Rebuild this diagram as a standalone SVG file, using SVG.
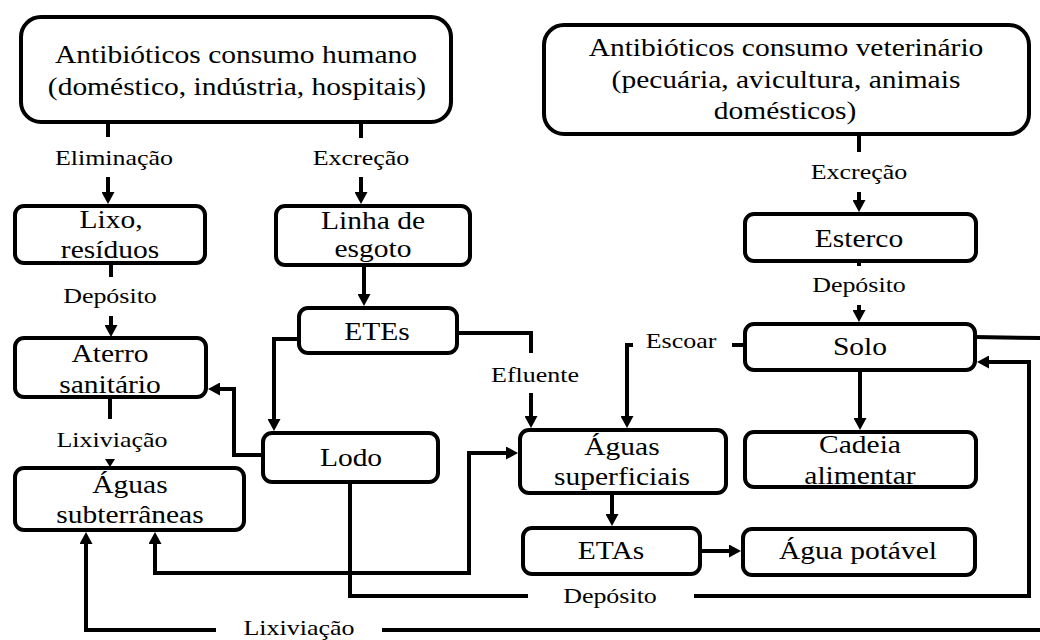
<svg xmlns="http://www.w3.org/2000/svg" width="1040" height="640" viewBox="0 0 1040 640" font-family="'Liberation Serif', 'Times New Roman', serif">
  <style>
    .box { fill: #fff; stroke: #000; stroke-width: 4; }
    .wire { fill: none; stroke: #000; stroke-width: 4; }
    .t { font-family: 'Liberation Serif', 'Times New Roman', serif; font-size: 25px; text-anchor: middle; fill: #000;
         transform-box: fill-box; transform-origin: center; transform: scaleX(1.18); }
    .l { font-size: 22px; }
  </style>
  <defs>
    <marker id="arrow" markerUnits="userSpaceOnUse" markerWidth="12" markerHeight="13" refX="4" refY="6.5" orient="auto-start-reverse">
      <path d="M0,0 L12,6.5 L0,13 z" fill="#000"/>
    </marker>
  </defs>
  <rect width="1040" height="640" fill="#fff"/>

  <!-- connectors -->
  <g id="connectors">
    <!-- human consumption branches -->
    <path class="wire" d="M108,122 V137"/>
    <text class="t l" x="114" y="165">Eliminação</text>
    <path class="wire" d="M108,177 V196" marker-end="url(#arrow)"/>

    <path class="wire" d="M361,122 V138"/>
    <text class="t l" x="361" y="165">Excreção</text>
    <path class="wire" d="M361,177 V196" marker-end="url(#arrow)"/>

    <path class="wire" d="M111,263 V277"/>
    <text class="t l" x="110" y="303">Depósito</text>
    <path class="wire" d="M111,316 V329" marker-end="url(#arrow)"/>

    <path class="wire" d="M364,265 V298" marker-end="url(#arrow)"/>

    <path class="wire" d="M110,397 V419"/>
    <text class="t l" x="112" y="447">Lixiviação</text>
    <path d="M105,459 H115 L110,467 z" fill="#000"/>

    <!-- veterinary branch -->
    <path class="wire" d="M859,134 V152"/>
    <text class="t l" x="859" y="179">Excreção</text>
    <path class="wire" d="M859,192 V204" marker-end="url(#arrow)"/>

    <path class="wire" d="M859,261 V266"/>
    <text class="t l" x="859" y="292">Depósito</text>
    <path class="wire" d="M859,305 V314" marker-end="url(#arrow)"/>

    <!-- treatment plant outputs -->
    <path class="wire" d="M299,339 H274 V423" marker-end="url(#arrow)"/>
    <path class="wire" d="M457,333 H531 V353"/>
    <text class="t l" x="535" y="382">Efluente</text>
    <path class="wire" d="M531,393 V420" marker-end="url(#arrow)"/>

    <path class="wire" d="M263,455 H234 V389 H216" marker-end="url(#arrow)"/>

    <!-- soil runoff -->
    <path class="wire" d="M745,345 H732"/>
    <text class="t l" x="681" y="348">Escoar</text>
    <path class="wire" d="M633,345 H627 V420" marker-end="url(#arrow)"/>

    <path class="wire" d="M860,370 V422" marker-end="url(#arrow)"/>
    <path class="wire" d="M612,493 V518" marker-end="url(#arrow)"/>
    <path class="wire" d="M700,551 H733" marker-end="url(#arrow)"/>

    <!-- surface / ground water exchange -->
    <path class="wire" d="M155,540 V573 H469 V453 H510" marker-start="url(#arrow)" marker-end="url(#arrow)"/>

    <!-- sludge deposit onto soil -->
    <path class="wire" d="M350,482 V596 H528"/>
    <text class="t l" x="610" y="603">Depósito</text>
    <path class="wire" d="M694,596 H1029 V362 H985" marker-end="url(#arrow)"/>

    <!-- soil leaching to groundwater -->
    <path class="wire" d="M975,337 L1040,338"/>
    <path class="wire" d="M1040,630 H382"/>
    <text class="t l" x="299" y="635">Lixiviação</text>
    <path class="wire" d="M216,630 H86 V540" marker-end="url(#arrow)"/>
  </g>

  <!-- nodes -->
  <g id="human">
    <rect class="box" x="21" y="17" width="430" height="105" rx="20"/>
    <text class="t" x="236" y="63">Antibióticos consumo humano</text>
    <text class="t" x="237" y="95">(doméstico, indústria, hospitais)</text>
  </g>
  <g id="veterinary">
    <rect class="box" x="544" y="25" width="485" height="109" rx="20"/>
    <text class="t" x="786" y="56">Antibióticos consumo veterinário</text>
    <text class="t" x="786" y="88">(pecuária, avicultura, animais</text>
    <text class="t" x="785" y="119">domésticos)</text>
  </g>
  <g id="lixo">
    <rect class="box" x="15" y="206" width="190" height="57" rx="9"/>
    <text class="t" x="111" y="228">Lixo,</text>
    <text class="t" x="110" y="258">resíduos</text>
  </g>
  <g id="esgoto">
    <rect class="box" x="276" y="206" width="194" height="59" rx="9"/>
    <text class="t" x="373" y="229">Linha de</text>
    <text class="t" x="373" y="257">esgoto</text>
  </g>
  <g id="esterco">
    <rect class="box" x="745" y="214" width="231" height="47" rx="9"/>
    <text class="t" x="859" y="247">Esterco</text>
  </g>
  <g id="aterro">
    <rect class="box" x="15" y="338" width="191" height="59" rx="9"/>
    <text class="t" x="110" y="362">Aterro</text>
    <text class="t" x="110" y="393">sanitário</text>
  </g>
  <g id="etes">
    <rect class="box" x="299" y="308" width="158" height="45" rx="9"/>
    <text class="t" x="377" y="340">ETEs</text>
  </g>
  <g id="solo">
    <rect class="box" x="745" y="324" width="230" height="46" rx="9"/>
    <text class="t" x="860" y="355">Solo</text>
  </g>
  <g id="lodo">
    <rect class="box" x="263" y="433" width="175" height="49" rx="9"/>
    <text class="t" x="351" y="466">Lodo</text>
  </g>
  <g id="aguas-subterraneas">
    <rect class="box" x="15" y="468" width="229" height="62" rx="9"/>
    <text class="t" x="130" y="493">Águas</text>
    <text class="t" x="130" y="523">subterrâneas</text>
  </g>
  <g id="aguas-superficiais">
    <rect class="box" x="520" y="430" width="206" height="63" rx="9"/>
    <text class="t" x="622" y="455">Águas</text>
    <text class="t" x="622" y="485">superficiais</text>
  </g>
  <g id="cadeia">
    <rect class="box" x="745" y="432" width="231" height="55" rx="9"/>
    <text class="t" x="860" y="453">Cadeia</text>
    <text class="t" x="860" y="484">alimentar</text>
  </g>
  <g id="etas">
    <rect class="box" x="523" y="528" width="177" height="46" rx="9"/>
    <text class="t" x="611" y="559">ETAs</text>
  </g>
  <g id="agua-potavel">
    <rect class="box" x="743" y="529" width="232" height="46" rx="9"/>
    <text class="t" x="858" y="559">Água potável</text>
  </g>
</svg>
